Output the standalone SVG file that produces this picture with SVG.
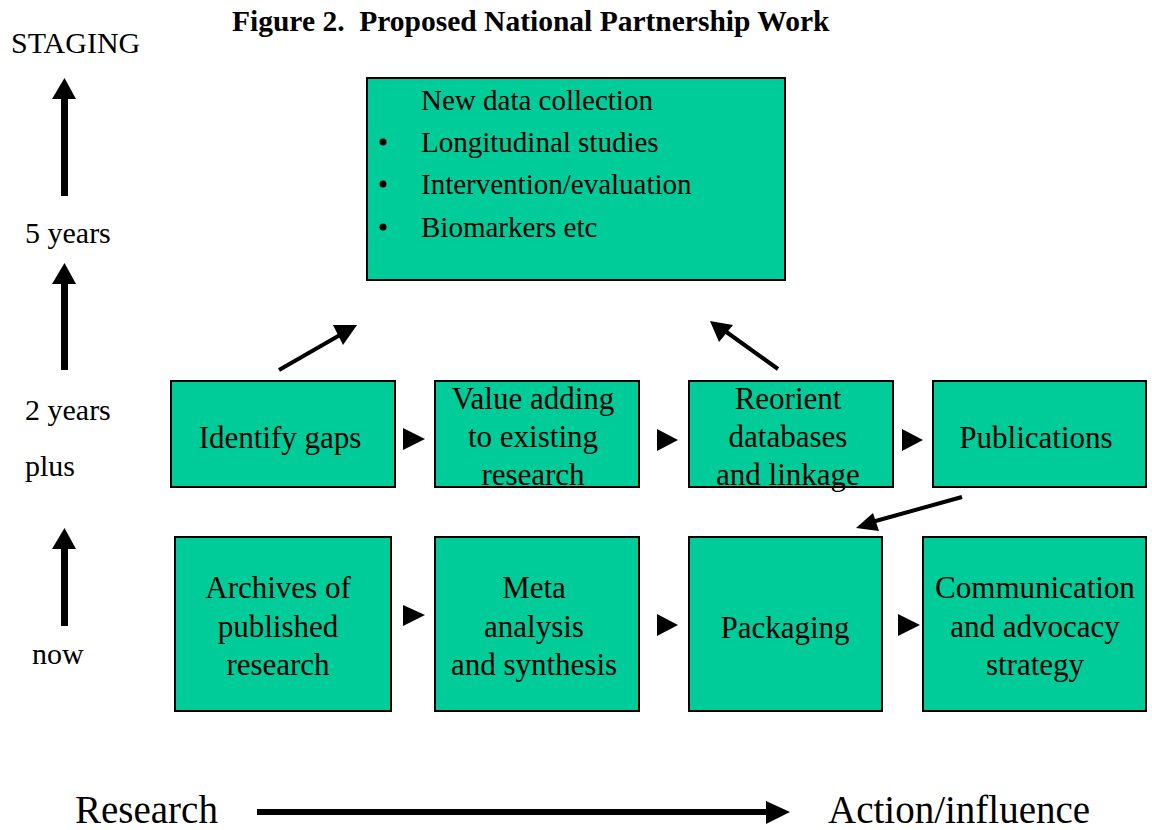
<svg xmlns="http://www.w3.org/2000/svg" width="1152" height="830" viewBox="0 0 1152 830">
<style>
  text { font-family: "Liberation Serif", "Times New Roman", serif; fill: #000; }
  .box { fill: #00CC99; stroke: #000; stroke-width: 2; }
  .bt { font-size: 31px; text-anchor: middle; }
  .tt { font-size: 29px; }
  .lab { font-size: 30px; }
  .big { font-size: 39px; }
  .title { font-size: 29.5px; font-weight: bold; }
  .shaft { stroke: #000; stroke-width: 4; fill: none; }
  .vshaft { stroke: #000; stroke-width: 7; fill: none; }
  .head { fill: #000; }
</style>
<rect width="1152" height="830" fill="#fff"/>

<text class="title" x="232" y="31" xml:space="preserve">Figure 2.  Proposed National Partnership Work</text>

<g id="stage-labels">
  <text class="lab" x="11" y="53">STAGING</text>
  <text class="lab" x="25" y="243">5 years</text>
  <text class="lab" x="25" y="420">2 years</text>
  <text class="lab" x="25" y="476">plus</text>
  <text class="lab" x="32" y="664">now</text>
</g>

<g id="node-new-data">
  <rect class="box" x="367" y="78" width="418" height="202"/>
  <text class="tt" x="421" y="110">New data collection</text>
  <circle cx="383" cy="142" r="3.5"/>
  <text class="tt" x="421" y="152">Longitudinal studies</text>
  <circle cx="383" cy="184" r="3.5"/>
  <text class="tt" x="421" y="194">Intervention/evaluation</text>
  <circle cx="383" cy="227" r="3.5"/>
  <text class="tt" x="421" y="237">Biomarkers etc</text>
</g>

<g id="node-identify-gaps">
  <rect class="box" x="171" y="381" width="224" height="106"/>
  <text class="bt" x="280" y="448">Identify gaps</text>
</g>
<g id="node-value-adding">
  <rect class="box" x="435" y="381" width="204" height="106"/>
  <text class="bt" x="533" y="409">Value adding</text>
  <text class="bt" x="533" y="447">to existing</text>
  <text class="bt" x="533" y="485">research</text>
</g>
<g id="node-reorient">
  <rect class="box" x="689" y="381" width="204" height="106"/>
  <text class="bt" x="788" y="409">Reorient</text>
  <text class="bt" x="788" y="447">databases</text>
  <text class="bt" x="788" y="485">and linkage</text>
</g>
<g id="node-publications">
  <rect class="box" x="933" y="381" width="213" height="106"/>
  <text class="bt" x="1036" y="448">Publications</text>
</g>

<g id="node-archives">
  <rect class="box" x="175" y="537" width="216" height="174"/>
  <text class="bt" x="278" y="598">Archives of</text>
  <text class="bt" x="278" y="637">published</text>
  <text class="bt" x="278" y="675">research</text>
</g>
<g id="node-meta">
  <rect class="box" x="435" y="537" width="204" height="174"/>
  <text class="bt" x="534" y="598">Meta</text>
  <text class="bt" x="534" y="637">analysis</text>
  <text class="bt" x="534" y="675">and synthesis</text>
</g>
<g id="node-packaging">
  <rect class="box" x="689" y="537" width="193" height="174"/>
  <text class="bt" x="785" y="638">Packaging</text>
</g>
<g id="node-communication">
  <rect class="box" x="923" y="537" width="223" height="174"/>
  <text class="bt" x="1035" y="598">Communication</text>
  <text class="bt" x="1035" y="637">and advocacy</text>
  <text class="bt" x="1035" y="675">strategy</text>
</g>

<g id="connectors">
  <line class="vshaft" x1="64.5" y1="196" x2="64.5" y2="96"/>
  <polygon class="head" points="52,99 64.5,78 76,99"/>
  <line class="vshaft" x1="64.5" y1="370" x2="64.5" y2="281"/>
  <polygon class="head" points="52,284 64.5,263 76,284"/>
  <line class="vshaft" x1="64.5" y1="626" x2="64.5" y2="546"/>
  <polygon class="head" points="52,549 64.5,528 76,549"/>

  <polygon class="head" points="403,428 425,439 403,450"/>
  <polygon class="head" points="657,429 678,440 657,451"/>
  <polygon class="head" points="902,429 923,440 902,451"/>
  <polygon class="head" points="403,605 425,615 403,626"/>
  <polygon class="head" points="657,614 678,625 657,636"/>
  <polygon class="head" points="898,614 920,625 898,636"/>

  <line class="shaft" x1="279" y1="370" x2="340" y2="335"/>
  <polygon class="head" points="333,325 357,325 343,345"/>
  <line class="shaft" x1="778" y1="369" x2="725" y2="331"/>
  <polygon class="head" points="710,321 733,325 719,342"/>
  <line class="shaft" x1="962" y1="497" x2="872" y2="522"/>
  <polygon class="head" points="856,528 873,513 879,531"/>

  <line x1="257" y1="812" x2="768" y2="812" stroke="#000" stroke-width="6"/>
  <polygon class="head" points="766,801 790,812 766,824"/>
</g>

<text class="big" x="75" y="823">Research</text>
<text class="big" x="828" y="823">Action/influence</text>
</svg>
